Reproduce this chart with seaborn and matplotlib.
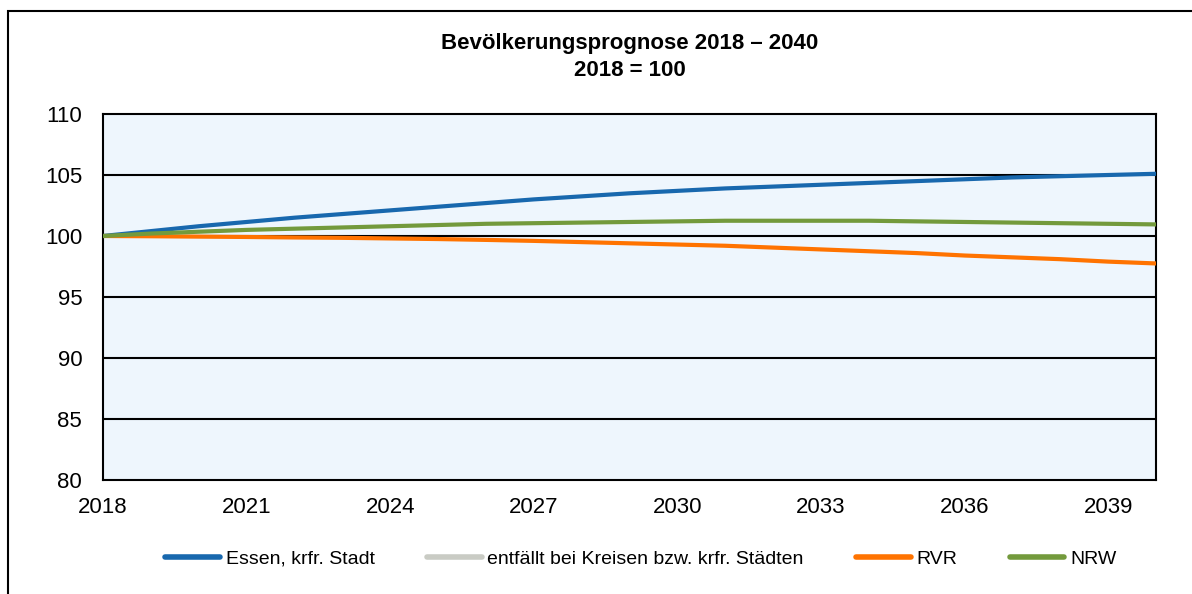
import numpy as np
import pandas as pd
import matplotlib
matplotlib.use('Agg')
import matplotlib.pyplot as plt
from matplotlib.lines import Line2D
from matplotlib.patches import Rectangle
import seaborn as sns

# data (index, 2018 = 100)
years = list(range(2018, 2041))
essen = [100.0, 100.4, 100.8, 101.15, 101.5, 101.8, 102.1, 102.4, 102.7, 103.0, 103.25, 103.5,
         103.7, 103.9, 104.05, 104.2, 104.35, 104.5, 104.65, 104.8, 104.9, 105.0, 105.1]
rvr = [100.0, 99.98, 99.95, 99.92, 99.88, 99.85, 99.8, 99.75, 99.68, 99.6, 99.5, 99.4,
       99.3, 99.2, 99.05, 98.9, 98.75, 98.6, 98.4, 98.25, 98.1, 97.9, 97.75]
nrw = [100.0, 100.2, 100.35, 100.5, 100.6, 100.7, 100.8, 100.9, 101.0, 101.05, 101.1, 101.15,
       101.2, 101.25, 101.25, 101.25, 101.25, 101.2, 101.15, 101.1, 101.05, 101.0, 100.95]
# the "entfällt" series carries no values, it only shows up in the legend
series_names = ['Essen, krfr. Stadt', 'entfällt bei Kreisen bzw. krfr. Städten', 'RVR', 'NRW']
colors = ['#1868AE', '#C9CBC4', '#FF7300', '#739A3C']
ytick_vals = [80, 85, 90, 95, 100, 105, 110]
xtick_labels = [str(y) if (y - 2018) % 3 == 0 else '' for y in years]

df = pd.DataFrame({
    'Jahr': years * 3,
    'Wert': essen + rvr + nrw,
    'Gebiet': [series_names[0]] * len(years) + [series_names[2]] * len(years) + [series_names[3]] * len(years),
})
palette = dict(zip(series_names, colors))

sns.set_style('white')
plt.rcParams['font.family'] = ['Liberation Sans', 'DejaVu Sans']
plt.rcParams['text.color'] = 'black'
plt.rcParams['xtick.color'] = 'black'
plt.rcParams['ytick.color'] = 'black'
plt.rcParams['axes.labelcolor'] = 'black'

fig = plt.figure(figsize=(11.92, 5.94), dpi=100)
ax = fig.add_axes([103 / 1192, 1 - 480 / 594, (1156 - 103) / 1192, (480 - 114) / 594])
ax.set_facecolor('#EEF6FD')

sns.lineplot(data=df, x='Jahr', y='Wert', hue='Gebiet', palette=palette, linewidth=3,
             legend=False, ax=ax, zorder=3)

# grid + axes
ax.set_xlim(2018, 2040)
ax.set_ylim(80, 110)
ax.set_yticks(ytick_vals)
ax.set_xticks(years)
ax.set_xticklabels(xtick_labels)
for y in ytick_vals[1:-1]:
    ax.axhline(y, color='black', linewidth=1.5, zorder=2)
for s in ax.spines.values():
    s.set_color('black')
    s.set_linewidth(1.5)
ax.tick_params(axis='both', direction='out', length=5, width=1.5, colors='black',
               labelcolor='black', labelsize=16)
ax.tick_params(axis='x', pad=7)
ax.tick_params(axis='y', pad=10)
ax.set_xlabel('')
ax.set_ylabel('')

fig.text(629.5 / 1192, 1 - 44 / 594, 'Bevölkerungsprognose 2018 – 2040', ha='center', va='center',
         fontsize=16, fontweight='bold', color='black')
fig.text(629.5 / 1192, 1 - 70 / 594, '2018 = 100', ha='center', va='center',
         fontsize=16, fontweight='bold', color='black')

handles = [Line2D([], [], color=c, linewidth=4) for c in colors]
leg = fig.legend(handles, series_names, loc='center', bbox_to_anchor=(641 / 1192, 1 - 559 / 594), ncol=4,
                 frameon=False, fontsize=14, handlelength=2.8, handletextpad=0.3, columnspacing=2.7)
for t in leg.get_texts():
    t.set_color('black')

# outer chart frame (runs off the right and bottom edge)
fig.add_artist(Rectangle((8 / 1192, -0.1), 1.2, 1.1 - 11 / 594, transform=fig.transFigure,
                         fill=False, edgecolor='black', linewidth=1.5))

fig.savefig('out.png', dpi=100)
